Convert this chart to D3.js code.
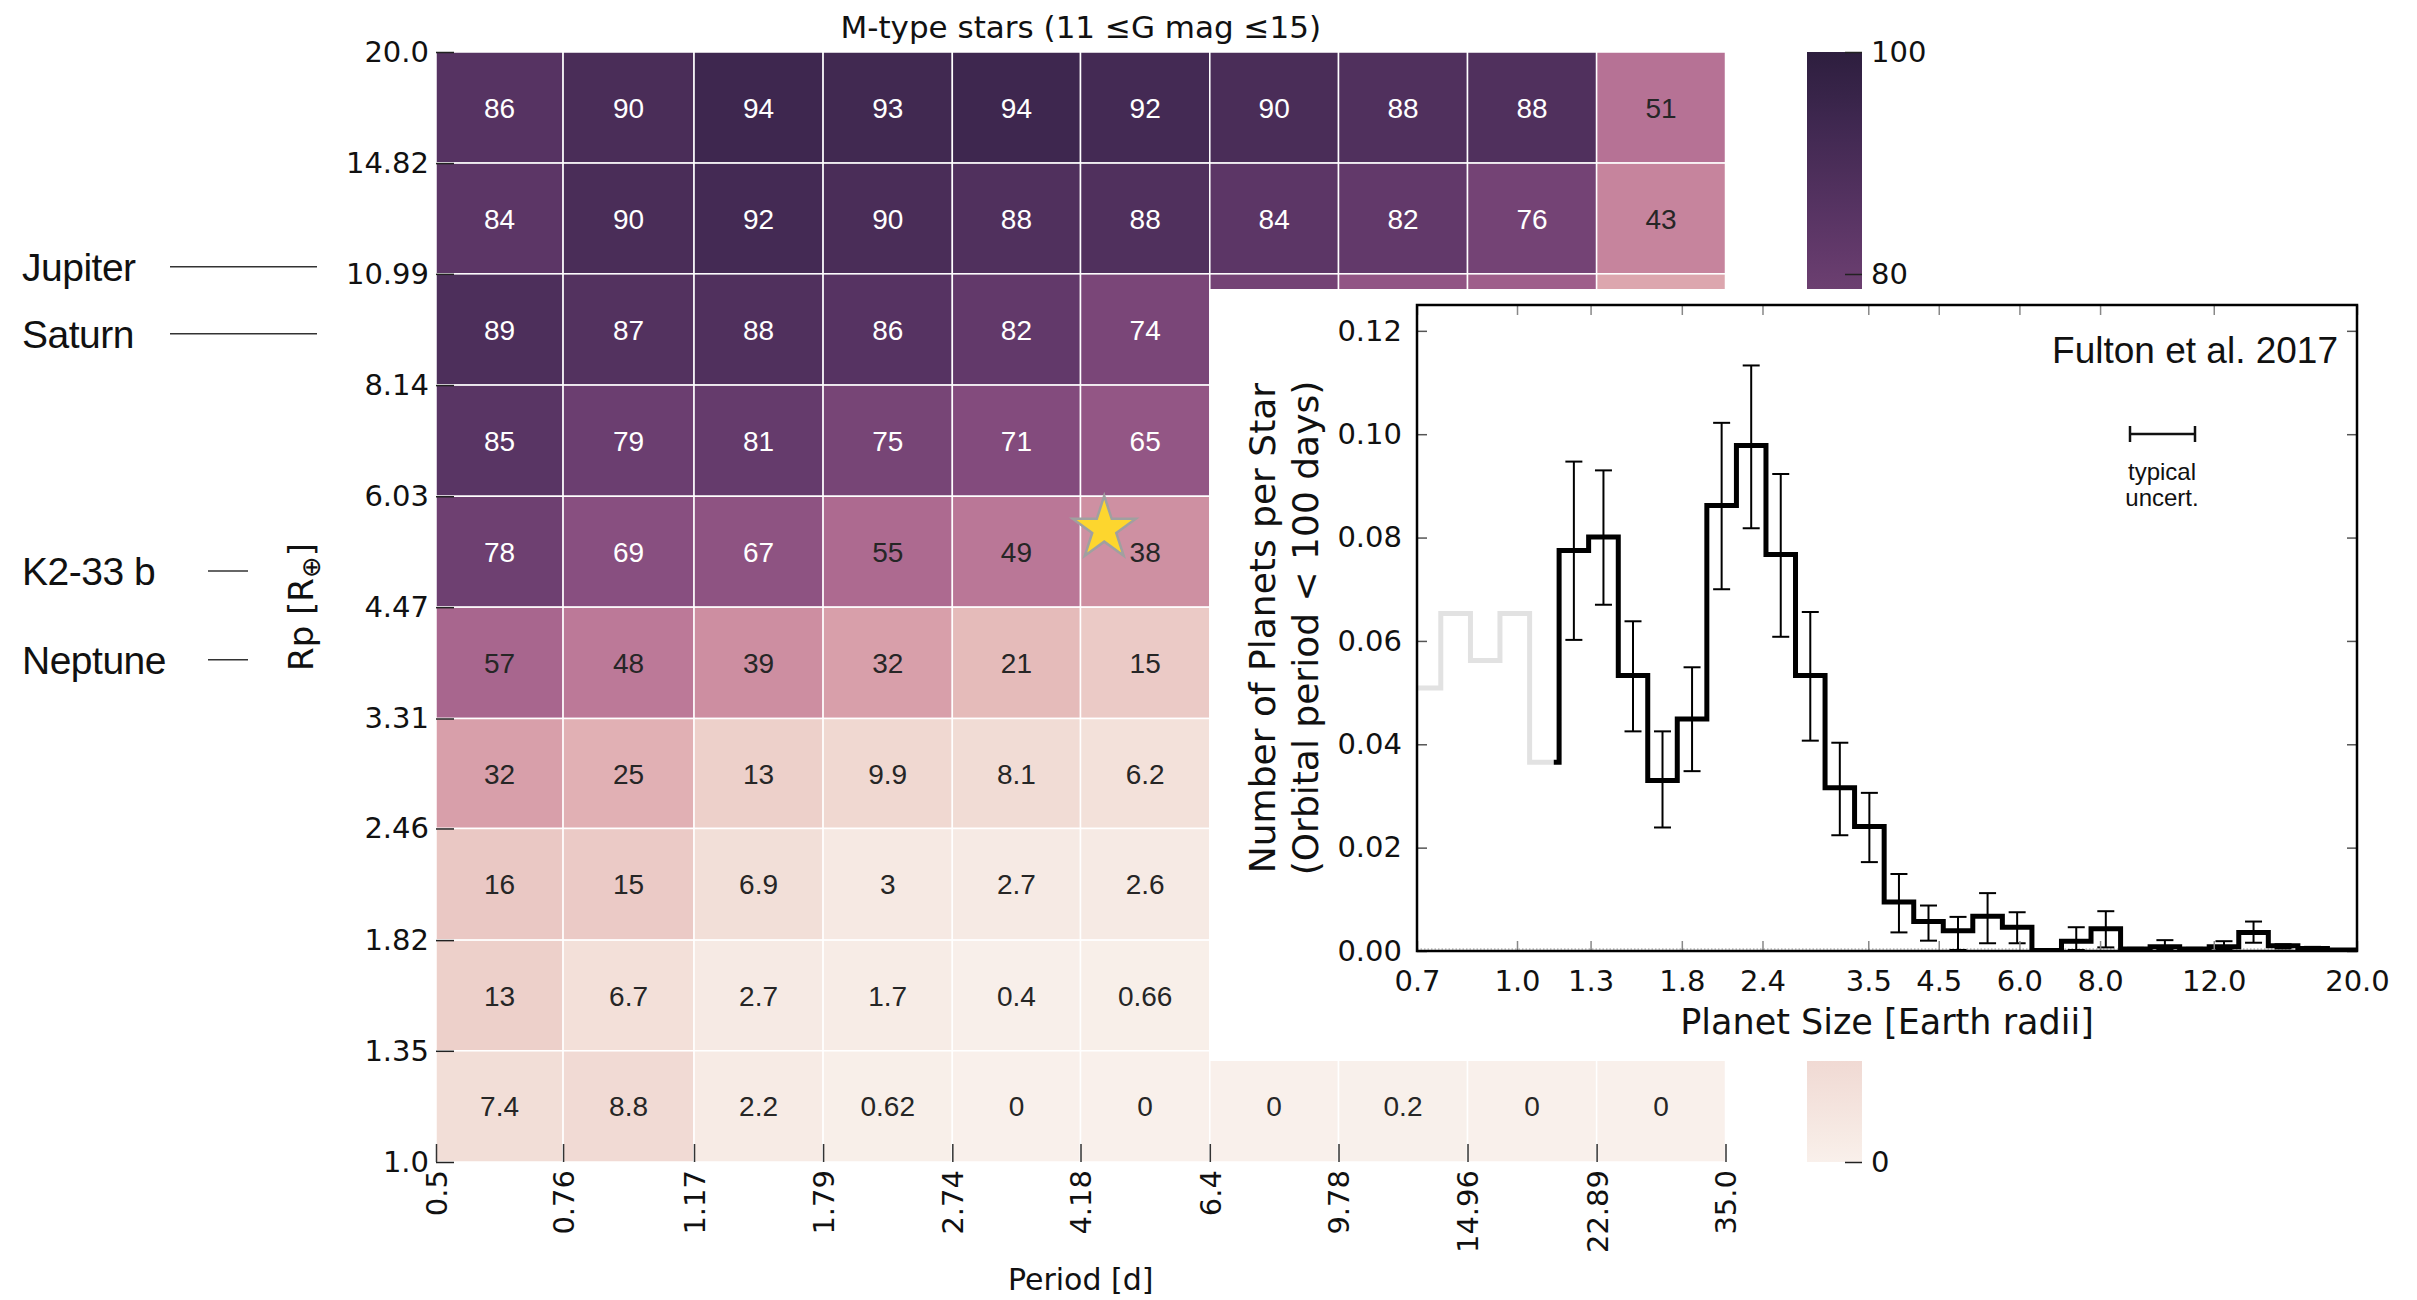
<!DOCTYPE html>
<html>
<head>
<meta charset="utf-8">
<script src="https://cdn.jsdelivr.net/npm/d3@7"></script>
<style>
  body { margin: 0; background: #fff; }
  svg text { font-family: "Liberation Sans", Arial, sans-serif; }
  .dv { font-family: "DejaVu Sans", sans-serif; }
</style>
</head>
<body>
<svg id="chart" width="2417" height="1300"></svg>
<script>
// ---------------- heatmap: completeness (%) per period / radius bin ----------------
const periodEdges = [0.5, 0.76, 1.17, 1.79, 2.74, 4.18, 6.4, 9.78, 14.96, 22.89, 35.0];
const periodTickLabels = ["0.5", "0.76", "1.17", "1.79", "2.74", "4.18", "6.4", "9.78", "14.96", "22.89", "35.0"];
const radiusEdges = [1.0, 1.35, 1.82, 2.46, 3.31, 4.47, 6.03, 8.14, 10.99, 14.82, 20.0];
const radiusTickLabels = ["1.0", "1.35", "1.82", "2.46", "3.31", "4.47", "6.03", "8.14", "10.99", "14.82", "20.0"];

// one array per radius bin, largest radii first; null = no cell
const row_14_82_20_0  = [86, 90, 94, 93, 94, 92, 90, 88, 88, 51];
const row_10_99_14_82 = [84, 90, 92, 90, 88, 88, 84, 82, 76, 43];
const row_8_14_10_99  = [89, 87, 88, 86, 82, 74, 76, 66, 61, 29];
const row_6_03_8_14   = [85, 79, 81, 75, 71, 65, null, null, null, null];
const row_4_47_6_03   = [78, 69, 67, 55, 49, 38, null, null, null, null];
const row_3_31_4_47   = [57, 48, 39, 32, 21, 15, null, null, null, null];
const row_2_46_3_31   = [32, 25, 13, 9.9, 8.1, 6.2, null, null, null, null];
const row_1_82_2_46   = [16, 15, 6.9, 3, 2.7, 2.6, null, null, null, null];
const row_1_35_1_82   = [13, 6.7, 2.7, 1.7, 0.4, 0.66, null, null, null, null];
const row_1_00_1_35   = [7.4, 8.8, 2.2, 0.62, 0, 0, 0, 0.2, 0, 0];
const heatRows = [row_14_82_20_0, row_10_99_14_82, row_8_14_10_99, row_6_03_8_14, row_4_47_6_03,
                  row_3_31_4_47, row_2_46_3_31, row_1_82_2_46, row_1_35_1_82, row_1_00_1_35];

const colorbarTicks = [0, 20, 40, 60, 80, 100];

// reference planets marked beside the radius axis
const planetNames = ["Jupiter", "Saturn", "K2-33 b", "Neptune"];
const planetRadii = [11.2, 9.35, 4.93, 3.88];

// highlighted planet (star marker)
const starPeriod = 4.52;
const starRadius = 5.52;

// ---------------- inset: planet radius distribution (Fulton et al. 2017) ----------------
const sizeBinEdges = [0.686, 0.762, 0.847, 0.941, 1.046, 1.162, 1.291, 1.435, 1.594, 1.771, 1.968,
                      2.187, 2.430, 2.700, 3.000, 3.333, 3.704, 4.116, 4.573, 5.081, 5.646, 6.274,
                      6.971, 7.746, 8.607, 9.563, 10.626, 11.807, 13.119, 14.577, 16.198, 17.998, 20.0];
const planetsPerStar = [0.0509, 0.0653, 0.0562, 0.0653, 0.0365, 0.0775, 0.0801, 0.0533, 0.0330, 0.0449,
                        0.0862, 0.0978, 0.0767, 0.0533, 0.0316, 0.0241, 0.0095, 0.0057, 0.0039, 0.0067,
                        0.0046, 0.0001, 0.0019, 0.0043, 0.0004, 0.0008, 0.0004, 0.0008, 0.0036, 0.0010,
                        0.0005, 0.0002];
const errLow  = [null, null, null, null, null, 0.0602, 0.0670, 0.0425, 0.0239, 0.0348,
                 0.0700, 0.0818, 0.0608, 0.0407, 0.0224, 0.0172, 0.0036, 0.0020, 0.0002, 0.0015,
                 0.0015, null, 0.0002, 0.0007, 0.0002, 0.0003, 0.0002, 0.0003, 0.0016, 0.0005,
                 0.0002, 0.0001];
const errHigh = [null, null, null, null, null, 0.0947, 0.0930, 0.0638, 0.0425, 0.0549,
                 0.1022, 0.1133, 0.0923, 0.0656, 0.0403, 0.0306, 0.0149, 0.0088, 0.0066, 0.0112,
                 0.0075, null, 0.0046, 0.0077, 0.0006, 0.0021, 0.0006, 0.0019, 0.0057, 0.0013,
                 0.0008, 0.0003];
const completenessLimit = 1.14;   // below this radius the histogram is drawn in grey
const sizeTicks = [0.7, 1.0, 1.3, 1.8, 2.4, 3.5, 4.5, 6.0, 8.0, 12.0, 20.0];
const rateTicks = [0.00, 0.02, 0.04, 0.06, 0.08, 0.10, 0.12];

// ---------------- layout ----------------
const svg = d3.select("#chart");
const HM = { left: 436, right: 1725.5, top: 52, bottom: 1162 };
const CB = { left: 1807, right: 1862 };
const PANEL = { left: 1209.5, top: 289, right: 2417, bottom: 1061 };
const INSET = { left: 1417, right: 2357, top: 305, bottom: 951 };

const xP = d3.scaleLog().domain([0.5, 35]).range([HM.left, HM.right]);
const yR = d3.scaleLog().domain([1, 20]).range([HM.bottom, HM.top]);
const cbY = d3.scaleLinear().domain([0, 100]).range([HM.bottom, HM.top]);

// cubehelix colormap (start 0, rot 0.4, hue 0.8, light .95 -> dark .15)
function cubehelixColor(t) {
  const light = 0.95, dark = 0.15, start = 0, rot = 0.4, hue = 0.8;
  const lam = light + (dark - light) * t;
  const a = hue * lam * (1 - lam) / 2;
  const phi = 2 * Math.PI * (start / 3 + rot * lam);
  const c = Math.cos(phi), s = Math.sin(phi);
  const cl = v => Math.max(0, Math.min(1, v)) * 255;
  return d3.rgb(cl(lam + a * (-0.14861 * c + 1.78277 * s)),
                cl(lam + a * (-0.29227 * c - 0.90649 * s)),
                cl(lam + a * (1.97294 * c)));
}
const colorOf = v => cubehelixColor(Math.max(0, Math.min(1, v / 100)));
function luminance(col) {
  const f = u => { u /= 255; return u <= 0.03928 ? u / 12.92 : Math.pow((u + 0.055) / 1.055, 2.4); };
  return 0.2126 * f(col.r) + 0.7152 * f(col.g) + 0.0722 * f(col.b);
}
const fmt = d3.format(".2~g");

// ---------------- title ----------------
svg.append("text").attr("class", "dv")
  .attr("x", (HM.left + HM.right) / 2).attr("y", 38)
  .attr("text-anchor", "middle").attr("font-size", 31).attr("fill", "#111")
  .text("M-type stars (11 \u2264G mag \u226415)");

// ---------------- heatmap cells ----------------
const cells = [];
heatRows.forEach((row, i) => {
  const r0 = radiusEdges[9 - i], r1 = radiusEdges[10 - i];
  row.forEach((v, j) => {
    if (v === null) return;
    cells.push({ v, p0: periodEdges[j], p1: periodEdges[j + 1], r0, r1 });
  });
});
const gCells = svg.append("g");
gCells.selectAll("rect").data(cells).join("rect")
  .attr("x", d => xP(d.p0)).attr("y", d => yR(d.r1))
  .attr("width", d => xP(d.p1) - xP(d.p0)).attr("height", d => yR(d.r0) - yR(d.r1))
  .attr("fill", d => colorOf(d.v))
  .attr("stroke", "#fff").attr("stroke-width", 1.5);

const insidePanel = (x, y) => x > PANEL.left && y > PANEL.top && y < PANEL.bottom;
gCells.selectAll("text").data(cells.filter(d => {
    const cx = (xP(d.p0) + xP(d.p1)) / 2, cy = (yR(d.r0) + yR(d.r1)) / 2;
    return !insidePanel(cx, cy);
  })).join("text")
  .attr("x", d => (xP(d.p0) + xP(d.p1)) / 2)
  .attr("y", d => (yR(d.r0) + yR(d.r1)) / 2)
  .attr("dy", "0.36em").attr("text-anchor", "middle").attr("font-size", 28)
  .attr("fill", d => luminance(colorOf(d.v)) > 0.17 ? "#262626" : "#ffffff")
  .text(d => fmt(d.v));

// ---------------- heatmap axes ----------------
const axY = svg.append("g").attr("transform", `translate(${HM.left},0)`)
  .call(d3.axisLeft(yR).tickValues(radiusEdges)
    .tickFormat((d, i) => radiusTickLabels[i]).tickSizeInner(-18).tickSizeOuter(0).tickPadding(7));
axY.select(".domain").remove();
axY.selectAll("line").attr("stroke", "#222").attr("stroke-width", 1.5);
axY.selectAll("text").attr("class", "dv").attr("font-size", 29).attr("fill", "#111");

const axX = svg.append("g").attr("transform", `translate(0,${HM.bottom})`)
  .call(d3.axisBottom(xP).tickValues(periodEdges)
    .tickFormat((d, i) => periodTickLabels[i]).tickSizeInner(-18).tickSizeOuter(0).tickPadding(8));
axX.select(".domain").remove();
axX.selectAll("line").attr("stroke", "#333").attr("stroke-width", 1.5);
axX.selectAll("text").attr("class", "dv").attr("font-size", 29).attr("fill", "#111")
  .attr("transform", "rotate(-90)").attr("text-anchor", "end")
  .attr("x", -8).attr("y", 0).attr("dy", "0.36em");

svg.append("text").attr("class", "dv")
  .attr("x", (HM.left + HM.right) / 2).attr("y", 1290)
  .attr("text-anchor", "middle").attr("font-size", 30).attr("fill", "#111")
  .text("Period [d]");

const rpLabel = svg.append("text").attr("class", "dv")
  .attr("transform", `translate(313,${(HM.top + HM.bottom) / 2}) rotate(-90)`)
  .attr("text-anchor", "middle").attr("font-size", 34).attr("fill", "#111");
rpLabel.append("tspan").text("Rp [R");
rpLabel.append("tspan").attr("font-size", 26).attr("dy", 7).text("\u2295");
rpLabel.append("tspan").attr("dy", -7).text("]");

// reference planet markers
const planetLayout = [
  { lineFrom: 170, lineTo: 317 },
  { lineFrom: 170, lineTo: 317 },
  { lineFrom: 208, lineTo: 248 },
  { lineFrom: 208, lineTo: 248 }
];
const gPl = svg.append("g");
planetNames.forEach((name, i) => {
  const y = yR(planetRadii[i]);
  gPl.append("text").attr("x", 22).attr("y", y).attr("dy", "0.36em")
    .attr("font-size", 39).attr("fill", "#111").attr("letter-spacing", -0.5).text(name);
  gPl.append("line").attr("x1", planetLayout[i].lineFrom).attr("x2", planetLayout[i].lineTo)
    .attr("y1", y).attr("y2", y).attr("stroke", "#333").attr("stroke-width", 1.5);
});

// star marker
svg.append("path")
  .attr("d", d3.symbol(d3.symbolStar, 1230)())
  .attr("transform", `translate(${xP(starPeriod)},${yR(starRadius)})`)
  .attr("fill", "#fdd62e").attr("stroke", "#a0a0a0").attr("stroke-width", 2.5);

// ---------------- colorbar ----------------
const grad = svg.append("defs").append("linearGradient")
  .attr("id", "cbGrad").attr("x1", 0).attr("y1", 1).attr("x2", 0).attr("y2", 0);
d3.range(0, 101, 2).forEach(v => {
  grad.append("stop").attr("offset", v / 100).attr("stop-color", colorOf(v));
});
svg.append("rect").attr("x", CB.left).attr("y", cbY(100))
  .attr("width", CB.right - CB.left).attr("height", cbY(0) - cbY(100))
  .attr("fill", "url(#cbGrad)");
const axC = svg.append("g").attr("transform", `translate(${CB.right},0)`)
  .call(d3.axisRight(cbY).tickValues(colorbarTicks).tickFormat(d3.format("d"))
    .tickSizeInner(-17).tickSizeOuter(0).tickPadding(9));
axC.select(".domain").remove();
axC.selectAll("line").attr("stroke", "#222").attr("stroke-width", 1.5);
axC.selectAll("text").attr("class", "dv").attr("font-size", 29).attr("fill", "#111");

// ---------------- inset panel ----------------
svg.append("rect").attr("x", PANEL.left).attr("y", PANEL.top)
  .attr("width", PANEL.right - PANEL.left).attr("height", PANEL.bottom - PANEL.top)
  .attr("fill", "#fff");

const xS = d3.scaleLog().domain([0.7, 20]).range([INSET.left, INSET.right]);
const yN = d3.scaleLinear().domain([0, 0.125]).range([INSET.bottom, INSET.top]);

svg.append("defs").append("clipPath").attr("id", "insetClip")
  .append("rect").attr("x", INSET.left).attr("y", INSET.top - 10)
  .attr("width", INSET.right - INSET.left).attr("height", INSET.bottom - INSET.top + 10);

const gIn = svg.append("g");

// zero reference line
gIn.append("line").attr("x1", INSET.left).attr("x2", INSET.right)
  .attr("y1", yN(0) - 2).attr("y2", yN(0) - 2)
  .attr("stroke", "#9a9a9a").attr("stroke-width", 1).attr("stroke-dasharray", "1.5,2");

const bins = planetsPerStar.map((v, i) => ({ v, lo: sizeBinEdges[i], hi: sizeBinEdges[i + 1],
                                             eLo: errLow[i], eHi: errHigh[i] }));
const stepLine = d3.line().x(d => xS(d[0])).y(d => yN(d[1])).curve(d3.curveStepAfter);

// grey (incomplete) part
const greyBins = bins.filter(b => b.lo < completenessLimit);
const greyPts = greyBins.map(b => [Math.max(b.lo, 0.7), b.v]);
greyPts.push([completenessLimit, greyBins[greyBins.length - 1].v]);
gIn.append("path").attr("d", stepLine(greyPts)).attr("clip-path", "url(#insetClip)")
  .attr("fill", "none").attr("stroke", "#e2e2e2").attr("stroke-width", 5)
  .attr("stroke-linejoin", "miter");

// black part
const blackBins = bins.filter(b => b.hi > completenessLimit);
const blackPts = blackBins.map(b => [Math.max(b.lo, completenessLimit), b.v]);
blackPts.push([blackBins[blackBins.length - 1].hi, blackBins[blackBins.length - 1].v]);
gIn.append("path").attr("d", stepLine(blackPts)).attr("clip-path", "url(#insetClip)")
  .attr("fill", "none").attr("stroke", "#000").attr("stroke-width", 5)
  .attr("stroke-linejoin", "miter");

// error bars at geometric bin centres
const errBins = bins.filter(b => b.eLo !== null);
const capW = 8.5;
const gErr = gIn.append("g").attr("stroke", "#000").attr("stroke-width", 2);
errBins.forEach(b => {
  const cx = xS(Math.sqrt(b.lo * b.hi));
  gErr.append("line").attr("x1", cx).attr("x2", cx).attr("y1", yN(b.eLo)).attr("y2", yN(b.eHi));
  gErr.append("line").attr("x1", cx - capW).attr("x2", cx + capW).attr("y1", yN(b.eLo)).attr("y2", yN(b.eLo));
  gErr.append("line").attr("x1", cx - capW).attr("x2", cx + capW).attr("y1", yN(b.eHi)).attr("y2", yN(b.eHi));
});

// inset axes (ticks point inward on all sides)
const styleInsetAxis = (g, color) => {
  g.select(".domain").remove();
  g.selectAll("line").attr("stroke", color).attr("stroke-width", 1.5);
  g.selectAll("text").attr("class", "dv").attr("font-size", 29).attr("fill", "#111");
};
const sizeFmt = d3.format(".1f");
const rateFmt = d3.format(".2f");
styleInsetAxis(svg.append("g").attr("transform", `translate(0,${INSET.bottom})`)
  .call(d3.axisBottom(xS).tickValues(sizeTicks).tickFormat(sizeFmt)
    .tickSizeInner(-10).tickSizeOuter(0).tickPadding(19)), "#888");
styleInsetAxis(svg.append("g").attr("transform", `translate(0,${INSET.top})`)
  .call(d3.axisTop(xS).tickValues(sizeTicks).tickFormat("")
    .tickSizeInner(-10).tickSizeOuter(0)), "#888");
styleInsetAxis(svg.append("g").attr("transform", `translate(${INSET.left},0)`)
  .call(d3.axisLeft(yN).tickValues(rateTicks).tickFormat(rateFmt)
    .tickSizeInner(-10).tickSizeOuter(0).tickPadding(15)), "#555");
styleInsetAxis(svg.append("g").attr("transform", `translate(${INSET.right},0)`)
  .call(d3.axisRight(yN).tickValues(rateTicks).tickFormat("")
    .tickSizeInner(-10).tickSizeOuter(0)), "#555");

svg.append("rect").attr("x", INSET.left).attr("y", INSET.top)
  .attr("width", INSET.right - INSET.left).attr("height", INSET.bottom - INSET.top)
  .attr("fill", "none").attr("stroke", "#000").attr("stroke-width", 2.5);

// inset labels
svg.append("text").attr("class", "dv")
  .attr("x", (INSET.left + INSET.right) / 2).attr("y", 1034)
  .attr("text-anchor", "middle").attr("font-size", 35).attr("fill", "#111")
  .text("Planet Size [Earth radii]");
const yMid = (INSET.top + INSET.bottom) / 2;
[["Number of Planets per Star", 1262], ["(Orbital period < 100 days)", 1305]].forEach(([t, x]) => {
  svg.append("text").attr("class", "dv")
    .attr("transform", `translate(${x},${yMid}) rotate(-90)`)
    .attr("dy", "0.36em").attr("text-anchor", "middle").attr("font-size", 36).attr("fill", "#111")
    .text(t);
});
svg.append("text").attr("x", 2338).attr("y", 363).attr("text-anchor", "end")
  .attr("font-size", 37).attr("fill", "#111").text("Fulton et al. 2017");

// typical uncertainty key
const gKey = svg.append("g").attr("stroke", "#111").attr("stroke-width", 2.5);
gKey.append("line").attr("x1", 2130).attr("x2", 2195).attr("y1", 434).attr("y2", 434);
gKey.append("line").attr("x1", 2130).attr("x2", 2130).attr("y1", 426).attr("y2", 442);
gKey.append("line").attr("x1", 2195).attr("x2", 2195).attr("y1", 426).attr("y2", 442);
svg.append("text").attr("x", 2162).attr("y", 480).attr("text-anchor", "middle")
  .attr("font-size", 24).attr("fill", "#111").text("typical");
svg.append("text").attr("x", 2162).attr("y", 506).attr("text-anchor", "middle")
  .attr("font-size", 24).attr("fill", "#111").text("uncert.");
</script>
</body>
</html>
